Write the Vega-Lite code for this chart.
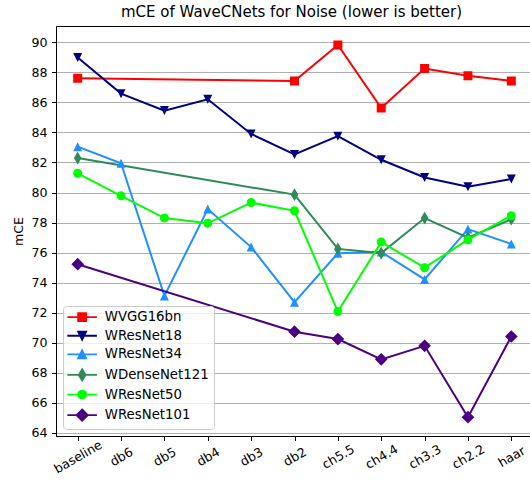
{
  "$schema": "https://vega.github.io/schema/vega-lite/v6.json",
  "autosize": "none",
  "width": 477,
  "height": 410,
  "padding": {"left": 56, "top": 26, "right": 0, "bottom": 51},
  "title": {"text": "mCE of WaveCNets for Noise (lower is better)", "fontSize": 15, "font": "DejaVu Sans", "fontWeight": "normal", "color": "black", "offset": 6, "dx": -3},
  "config": {
    "view": {"stroke": "black", "strokeWidth": 1},
    "font": "DejaVu Sans",
    "axis": {"labelFont": "DejaVu Sans", "labelFontSize": 12.6, "labelColor": "black", "titleFont": "DejaVu Sans", "titleFontSize": 12.6, "titleFontWeight": "normal", "titleColor": "black", "domainColor": "black", "domainWidth": 1, "tickColor": "black", "tickWidth": 1, "tickSize": 4.5},
    "legend": {"title": null, "orient": "bottom-left", "offset": 7, "padding": 4.5, "labelFont": "DejaVu Sans", "labelFontSize": 13.3, "labelColor": "black", "rowPadding": 2.6, "symbolOffset": 8, "labelOffset": 16, "symbolSize": 64, "symbolStrokeWidth": 1.8, "strokeColor": "#cccccc", "fillColor": "rgba(255,255,255,0.8)", "cornerRadius": 3}
  },
  "data": {"values": [
    {"x": "baseline", "model": "WVGG16bn", "mce": 87.6},
    {"x": "db2", "model": "WVGG16bn", "mce": 87.42},
    {"x": "ch5.5", "model": "WVGG16bn", "mce": 89.82},
    {"x": "ch4.4", "model": "WVGG16bn", "mce": 85.62},
    {"x": "ch3.3", "model": "WVGG16bn", "mce": 88.25},
    {"x": "ch2.2", "model": "WVGG16bn", "mce": 87.77},
    {"x": "haar", "model": "WVGG16bn", "mce": 87.42},
    {"x": "baseline", "model": "WResNet18", "mce": 88.98},
    {"x": "db6", "model": "WResNet18", "mce": 86.58},
    {"x": "db5", "model": "WResNet18", "mce": 85.45},
    {"x": "db4", "model": "WResNet18", "mce": 86.2},
    {"x": "db3", "model": "WResNet18", "mce": 83.9},
    {"x": "db2", "model": "WResNet18", "mce": 82.53},
    {"x": "ch5.5", "model": "WResNet18", "mce": 83.75},
    {"x": "ch4.4", "model": "WResNet18", "mce": 82.18},
    {"x": "ch3.3", "model": "WResNet18", "mce": 81.0},
    {"x": "ch2.2", "model": "WResNet18", "mce": 80.38},
    {"x": "haar", "model": "WResNet18", "mce": 80.9},
    {"x": "baseline", "model": "WResNet34", "mce": 83.05},
    {"x": "db6", "model": "WResNet34", "mce": 81.95},
    {"x": "db5", "model": "WResNet34", "mce": 73.12},
    {"x": "db4", "model": "WResNet34", "mce": 78.9},
    {"x": "db3", "model": "WResNet34", "mce": 76.37},
    {"x": "db2", "model": "WResNet34", "mce": 72.7},
    {"x": "ch5.5", "model": "WResNet34", "mce": 75.96},
    {"x": "ch4.4", "model": "WResNet34", "mce": 76.05},
    {"x": "ch3.3", "model": "WResNet34", "mce": 74.22},
    {"x": "ch2.2", "model": "WResNet34", "mce": 77.57},
    {"x": "haar", "model": "WResNet34", "mce": 76.58},
    {"x": "baseline", "model": "WDenseNet121", "mce": 82.29},
    {"x": "db2", "model": "WDenseNet121", "mce": 79.86},
    {"x": "ch5.5", "model": "WDenseNet121", "mce": 76.25},
    {"x": "ch4.4", "model": "WDenseNet121", "mce": 75.97},
    {"x": "ch3.3", "model": "WDenseNet121", "mce": 78.3},
    {"x": "ch2.2", "model": "WDenseNet121", "mce": 77.0},
    {"x": "haar", "model": "WDenseNet121", "mce": 78.22},
    {"x": "baseline", "model": "WResNet50", "mce": 81.28},
    {"x": "db6", "model": "WResNet50", "mce": 79.78},
    {"x": "db5", "model": "WResNet50", "mce": 78.3},
    {"x": "db4", "model": "WResNet50", "mce": 77.95},
    {"x": "db3", "model": "WResNet50", "mce": 79.33},
    {"x": "db2", "model": "WResNet50", "mce": 78.78},
    {"x": "ch5.5", "model": "WResNet50", "mce": 72.08},
    {"x": "ch4.4", "model": "WResNet50", "mce": 76.7},
    {"x": "ch3.3", "model": "WResNet50", "mce": 75.0},
    {"x": "ch2.2", "model": "WResNet50", "mce": 76.86},
    {"x": "haar", "model": "WResNet50", "mce": 78.46},
    {"x": "baseline", "model": "WResNet101", "mce": 75.23},
    {"x": "db2", "model": "WResNet101", "mce": 70.74},
    {"x": "ch5.5", "model": "WResNet101", "mce": 70.25},
    {"x": "ch4.4", "model": "WResNet101", "mce": 68.9},
    {"x": "ch3.3", "model": "WResNet101", "mce": 69.8},
    {"x": "ch2.2", "model": "WResNet101", "mce": 65.05},
    {"x": "haar", "model": "WResNet101", "mce": 70.42}
  ]},
  "encoding": {
    "x": {"field": "x", "type": "nominal",
      "sort": ["baseline", "db6", "db5", "db4", "db3", "db2", "ch5.5", "ch4.4", "ch3.3", "ch2.2", "haar"],
      "scale": {"type": "point", "padding": 0.5},
      "axis": {"title": null, "labelAngle": -30, "labelAlign": "center", "labelBaseline": "middle", "labelPadding": 16, "grid": false}},
    "y": {"field": "mce", "type": "quantitative",
      "scale": {"domain": [63.8, 91.08], "nice": false, "zero": false},
      "axis": {"title": "mCE", "values": [64, 66, 68, 70, 72, 74, 76, 78, 80, 82, 84, 86, 88, 90], "grid": true, "gridColor": "#b0b0b0", "gridWidth": 1, "labelPadding": 4.5, "titlePadding": 5}},
    "color": {"field": "model", "type": "nominal",
      "scale": {"domain": ["WVGG16bn", "WResNet18", "WResNet34", "WDenseNet121", "WResNet50", "WResNet101"],
        "range": ["#ff0000", "#000080", "#1e90ff", "#2e8b57", "#00ff00", "#4b0082"]}
    }
  },
  "layer": [
    {"mark": {"type": "line", "strokeWidth": 2}},
    {"mark": {"type": "point", "filled": true, "size": 81, "opacity": 1, "strokeWidth": 0},
      "encoding": {
        "stroke": {"field": "model", "type": "nominal",
          "scale": {"domain": ["WVGG16bn", "WResNet18", "WResNet34", "WDenseNet121", "WResNet50", "WResNet101"],
            "range": ["#ff0000", "#000080", "#1e90ff", "#2e8b57", "#00ff00", "#4b0082"]}},
        "shape": {"field": "model", "type": "nominal",
        "scale": {"domain": ["WVGG16bn", "WResNet18", "WResNet34", "WDenseNet121", "WResNet50", "WResNet101"],
          "range": ["M-1,-1L1,-1L1,1L-1,1Z M-3.7,0L3.7,0", "M-1,-1L1,-1L0,1Z M-3.7,0L3.7,0", "M0,-1L1,1L-1,1Z M-3.7,0L3.7,0", "M0,-1.41L0.85,0L0,1.41L-0.85,0Z M-3.7,0L3.7,0", "M1,0A1,1,0,1,1,-1,0A1,1,0,1,1,1,0Z M-3.7,0L3.7,0", "M0,-1.41L1.41,0L0,1.41L-1.41,0Z M-3.7,0L3.7,0"]}}}}
  ]
}
